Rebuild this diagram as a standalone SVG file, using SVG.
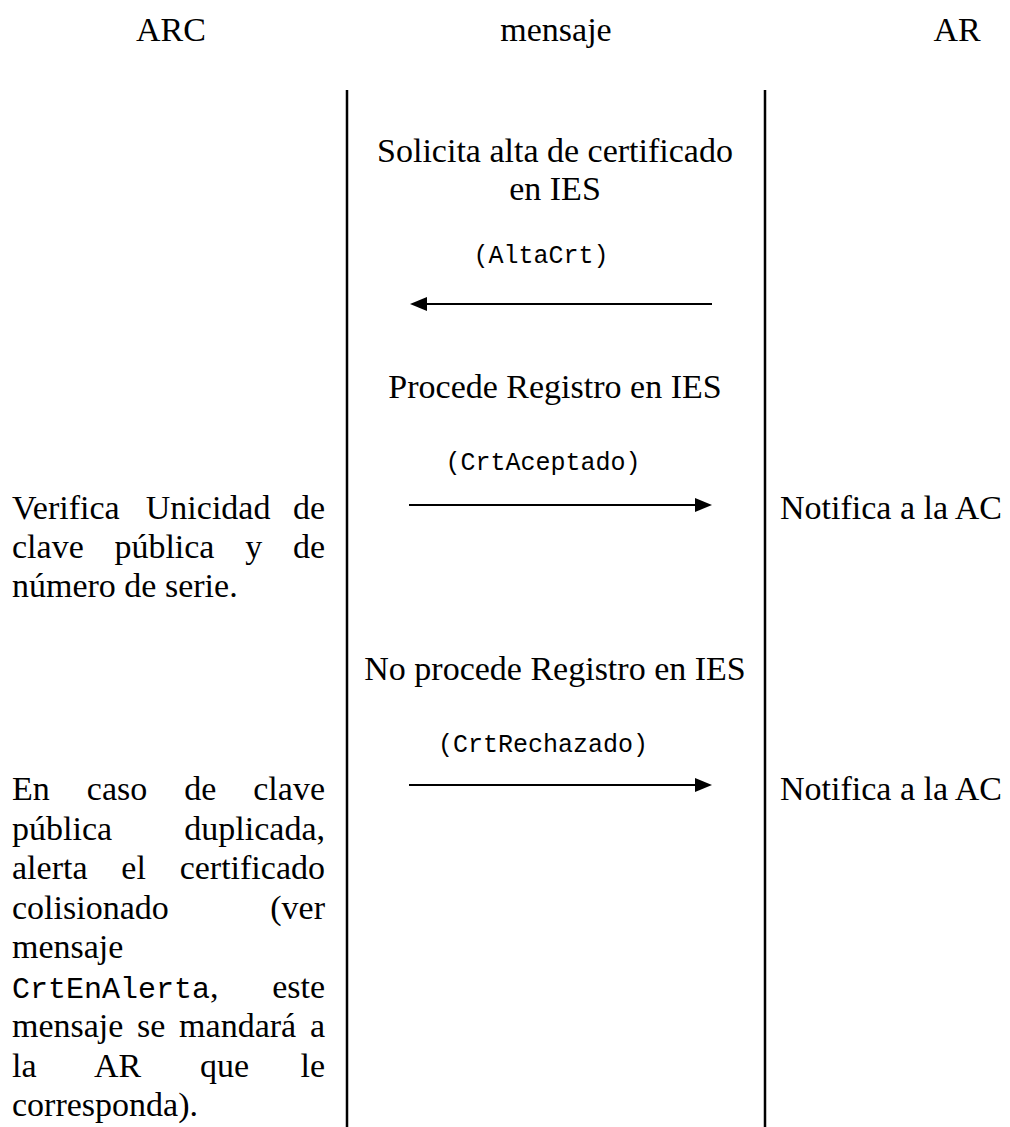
<svg xmlns="http://www.w3.org/2000/svg" width="1010" height="1127" viewBox="0 0 1010 1127">
<style>
  .t { font-family: "Liberation Serif", "Times New Roman", serif; font-size: 34px; fill: #000; }
  .m { font-family: "Liberation Mono", "Courier New", monospace; font-size: 25px; fill: #000; }
  .mc { font-family: "Liberation Mono", "Courier New", monospace; font-size: 30px; fill: #000; }
  .c { text-anchor: middle; }
  .e { text-anchor: end; }
  .div { stroke: #000; stroke-width: 2.5; }
  .arr { stroke: #000; stroke-width: 2; fill: none; marker-end: url(#ah); }
</style>
<defs>
  <marker id="ah" markerUnits="userSpaceOnUse" markerWidth="17" markerHeight="14" refX="7" refY="7" orient="auto">
    <path d="M0,0 L17,7 L0,14 Z" fill="#000"/>
  </marker>
</defs>
<rect width="1010" height="1127" fill="#fff"/>

<g id="header-arc"><text class="t c" x="171" y="41">ARC</text></g>
<g id="header-mensaje"><text class="t c" x="556" y="41">mensaje</text></g>
<g id="header-ar"><text class="t c" x="957" y="41">AR</text></g>

<g id="dividers">
  <line class="div" x1="347" y1="90" x2="347" y2="1127"/>
  <line class="div" x1="765" y1="90" x2="765" y2="1127"/>
</g>

<g id="msg-altacrt">
  <text class="t c" x="555" y="162">Solicita alta de certificado</text>
  <text class="t c" x="555" y="200">en IES</text>
  <text class="m c" x="541" y="263">(AltaCrt)</text>
</g>

<g id="msg-crtaceptado">
  <text class="t c" x="555" y="398">Procede Registro en IES</text>
  <text class="m c" x="543" y="470">(CrtAceptado)</text>
</g>

<g id="msg-crtrechazado">
  <text class="t c" x="555" y="680">No procede Registro en IES</text>
  <text class="m c" x="543" y="752">(CrtRechazado)</text>
</g>

<g id="arc-verifica">
  <text class="t" y="519"><tspan x="12">Verifica</tspan><tspan x="145.8">Unicidad</tspan><tspan x="325" text-anchor="end">de</tspan></text>
  <text class="t" y="558"><tspan x="12">clave</tspan><tspan x="114.4">pública</tspan><tspan x="245.2">y</tspan><tspan x="325" text-anchor="end">de</tspan></text>
  <text class="t" x="12" y="597">número de serie.</text>
</g>

<g id="arc-colision">
  <text class="t" y="800"><tspan x="12">En</tspan><tspan x="86.8">caso</tspan><tspan x="184.2">de</tspan><tspan x="325" text-anchor="end">clave</tspan></text>
  <text class="t" y="839.5"><tspan x="12">pública</tspan><tspan x="325" text-anchor="end">duplicada,</tspan></text>
  <text class="t" y="879"><tspan x="12">alerta</tspan><tspan x="121.3">el</tspan><tspan x="325" text-anchor="end">certificado</tspan></text>
  <text class="t" y="918.5"><tspan x="12">colisionado</tspan><tspan x="325" text-anchor="end">(ver</tspan></text>
  <text class="t" x="12" y="958">mensaje</text>
  <text y="997.5"><tspan class="mc" x="12">CrtEnAlerta</tspan><tspan class="t">,</tspan><tspan class="t" x="325" text-anchor="end">este</tspan></text>
  <text class="t" y="1037"><tspan x="12">mensaje</tspan><tspan x="137.1">se</tspan><tspan x="179.1">mandará</tspan><tspan x="325" text-anchor="end">a</tspan></text>
  <text class="t" y="1076.5"><tspan x="12">la</tspan><tspan x="94">AR</tspan><tspan x="200">que</tspan><tspan x="325" text-anchor="end">le</tspan></text>
  <text class="t" x="12" y="1116">corresponda).</text>
</g>

<g id="ar-notifica-1"><text class="t" x="780" y="519">Notifica a la AC</text></g>
<g id="ar-notifica-2"><text class="t" x="780" y="800">Notifica a la AC</text></g>

<g id="connectors">
  <line class="arr" x1="712" y1="304" x2="420" y2="304"/>
  <line class="arr" x1="409" y1="505" x2="702" y2="505"/>
  <line class="arr" x1="409" y1="785" x2="702" y2="785"/>
</g>
</svg>
